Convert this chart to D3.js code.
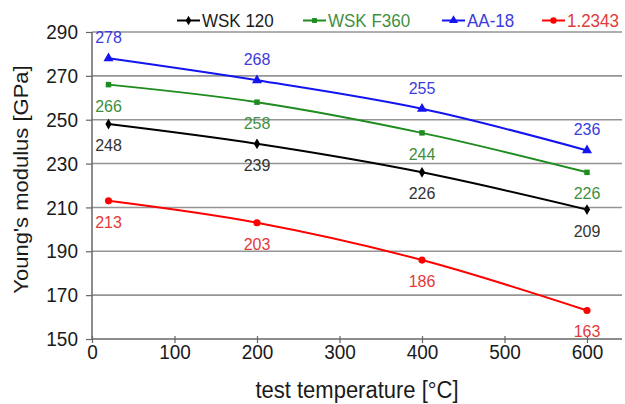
<!DOCTYPE html>
<html>
<head>
<meta charset="utf-8">
<script src="https://cdn.jsdelivr.net/npm/d3@7"></script>
<style>
  body { margin: 0; background: #fff; }
  text { font-family: "Liberation Sans", Arial, sans-serif; }
</style>
</head>
<body>
<svg id="chart" width="625" height="404"></svg>
<script>
// test temperatures [°C]
let temps = [20, 200, 400, 600];
let seriesNames = ['WSK 120', 'WSK F360', 'AA-18', '1.2343'];
let wsk120 = [248, 239, 226, 209];
let wskF360 = [266, 258, 244, 226];
let aa18 = [278, 268, 255, 236];
let steel12343 = [213, 203, 186, 163];
let xTicks = [0, 100, 200, 300, 400, 500, 600];
let yTicks = [150, 170, 190, 210, 230, 250, 270, 290];

let lineColors = ['#000000', '#1e8c1e', '#1414f0', '#ff0000'];
let labelColors = ['#333333', '#3f8f3f', '#3c3cdc', '#e23a3a'];
let symbols = [d3.symbolDiamond, d3.symbolSquare, d3.symbolTriangle, d3.symbolCircle];
let symSizes = [34, 30, 44, 40];
let labelAbove = [false, false, true, false];

let series = [wsk120, wskF360, aa18, steel12343].map((vals, i) => ({
  name: seriesNames[i],
  points: vals.map((v, j) => [temps[j], v])
}));

let svg = d3.select('#chart');
let plotL = 92, plotR = 622, plotT = 32, plotB = 339;
let stretch = 1.1;

let sx = d3.scaleLinear()
  .domain([0, 600 * (plotR - plotL) / 495])
  .range([plotL, plotR]);

let sy = d3.scaleLinear()
  .domain([150, 290])
  .range([plotB, plotT]);

// gridlines
svg.selectAll('.grid')
  .data(yTicks.slice(1))
  .enter()
  .append('line')
  .attr('class', 'grid')
  .attr('x1', plotL)
  .attr('x2', plotR)
  .attr('y1', d => sy(d))
  .attr('y2', d => sy(d))
  .attr('stroke', '#959595')
  .attr('stroke-width', 1.6);

// axes
let yAxis = svg.append('g')
  .attr('transform', `translate(${plotL},0)`)
  .call(d3.axisLeft(sy).tickValues(yTicks).tickSize(6).tickPadding(8));

let xAxis = svg.append('g')
  .attr('transform', `translate(0,${plotB})`)
  .call(d3.axisBottom(sx).tickValues(xTicks).tickSize(5).tickSizeOuter(0));

[yAxis, xAxis].forEach(g => {
  g.select('.domain').attr('stroke', '#666').attr('stroke-width', 1.5);
  g.selectAll('.tick line').attr('stroke', '#666').attr('stroke-width', 1.2);
  g.selectAll('.tick text')
    .attr('fill', '#1a1a1a')
    .style('font-size', '19px')
    .style('font-family', '"Liberation Sans", Arial, sans-serif');
});
yAxis.select('.domain').attr('d', `M0,${plotB}V${plotT}`);
yAxis.selectAll('.tick text').attr('transform', `scale(1,${stretch})`);
xAxis.select('.domain').attr('d', `M${plotL},0H${plotR}`);
xAxis.selectAll('.tick line').attr('y1', -3).attr('y2', 4);
xAxis.selectAll('.tick text')
  .attr('y', 20.5 / stretch)
  .attr('dy', 0)
  .attr('transform', `scale(1,${stretch})`);

// series lines
let line = d3.line()
  .x(d => sx(d[0]))
  .y(d => sy(d[1]))
  .curve(d3.curveCatmullRom.alpha(0.5));

let groups = svg.selectAll('.series')
  .data(series)
  .enter()
  .append('g')
  .attr('class', 'series');

groups.append('path')
  .attr('d', d => line(d.points))
  .attr('fill', 'none')
  .attr('stroke', (_, i) => lineColors[i])
  .attr('stroke-width', 2);

groups.each(function(s, i){
  let g = d3.select(this);
  g.selectAll('.marker')
    .data(s.points)
    .enter()
    .append('path')
    .attr('class', 'marker')
    .attr('d', d3.symbol().type(symbols[i]).size(symSizes[i]))
    .attr('transform', d => `translate(${sx(d[0])},${sy(d[1])})`)
    .attr('fill', lineColors[i]);

  g.selectAll('.vlabel')
    .data(s.points)
    .enter()
    .append('text')
    .attr('class', 'vlabel')
    .attr('x', d => sx(d[0]))
    .attr('y', d => sy(d[1]) + (labelAbove[i] ? -15 : 27))
    .attr('text-anchor', 'middle')
    .attr('fill', labelColors[i])
    .style('font-size', '16px')
    .text(d => d[1]);
});

// legend
let legendX = [177, 303, 442, 542];
let legend = svg.selectAll('.legend')
  .data(series)
  .enter()
  .append('g')
  .attr('class', 'legend')
  .attr('transform', (_, i) => `translate(${legendX[i]},20.5)`);

legend.append('line')
  .attr('x1', 0)
  .attr('x2', 23)
  .attr('stroke', (_, i) => lineColors[i])
  .attr('stroke-width', 2);

legend.append('path')
  .attr('d', (_, i) => d3.symbol().type(symbols[i]).size(symSizes[i] * 0.8)())
  .attr('transform', 'translate(11.5,0)')
  .attr('fill', (_, i) => lineColors[i]);

legend.append('text')
  .attr('transform', `translate(25,6.2) scale(1,${stretch})`)
  .attr('fill', (_, i) => i === 0 ? '#1a1a1a' : labelColors[i])
  .style('font-size', '17px')
  .text(d => d.name);

// axis titles
svg.append('text')
  .attr('transform', `translate(${(plotL + plotR) / 2},398) scale(1,${stretch})`)
  .attr('text-anchor', 'middle')
  .attr('fill', '#1a1a1a')
  .style('font-size', '22px')
  .text('test temperature [°C]');

svg.append('text')
  .attr('transform', `translate(28,${(plotT + plotB) / 2 - 6}) rotate(-90) scale(${stretch},1)`)
  .attr('text-anchor', 'middle')
  .attr('fill', '#1a1a1a')
  .style('font-size', '20px')
  .text("Young's modulus [GPa]");
</script>
</body>
</html>
